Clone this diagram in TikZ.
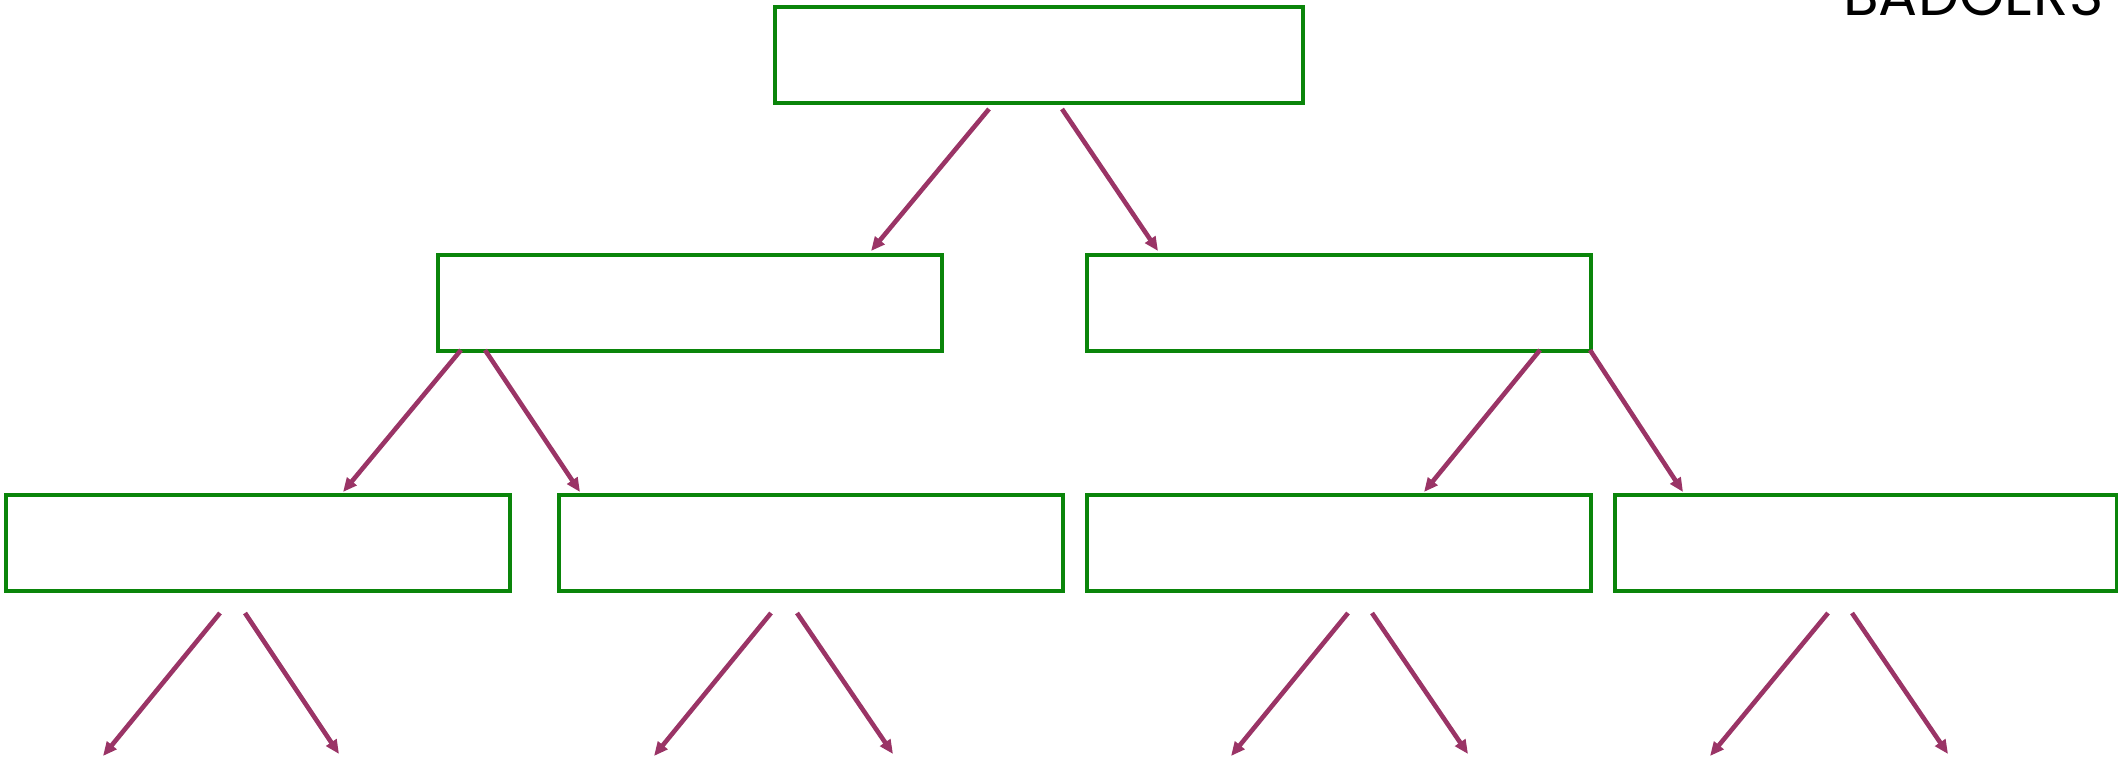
\documentclass[tikz,border=0pt]{standalone}
\usepackage{fontspec}
\newfontfamily\badgerfont{Poppins}
\usetikzlibrary{arrows.meta}
\definecolor{boxgreen}{HTML}{0A850A}
\definecolor{arrowplum}{HTML}{9A3466}
\tikzset{
  box/.style={draw=boxgreen, line width=1.8pt, fill=white, inner sep=0pt},
  link/.style={draw=arrowplum, line width=2.3pt, -{Triangle[length=7pt,width=6pt]}},
}
\begin{document}
\begin{tikzpicture}[x=0.5pt,y=-0.5pt]
\useasboundingbox (0,0) rectangle (2118,760);
% boxes
\node[box, minimum width=264pt, minimum height=48pt, anchor=north west] (top) at (773,5) {};
\node[box, minimum width=252pt, minimum height=48pt, anchor=north west] (ml) at (436,253) {};
\node[box, minimum width=252pt, minimum height=48pt, anchor=north west] (mr) at (1085,253) {};
\node[box, minimum width=252pt, minimum height=48pt, anchor=north west] (b1) at (4,493) {};
\node[box, minimum width=252pt, minimum height=48pt, anchor=north west] (b2) at (557,493) {};
\node[box, minimum width=252pt, minimum height=48pt, anchor=north west] (b3) at (1085,493) {};
\node[box, minimum width=251pt, minimum height=48pt, anchor=north west] (b4) at (1613,493) {};
% title
\node[anchor=base west, inner sep=0pt, font=\badgerfont\fontsize{29pt}{29pt}\selectfont] (title) at (1843,15) {BADGERS};
% connector start/end points
\coordinate (t1) at (989,109);  \coordinate (t1e) at (871,251);
\coordinate (t2) at (1062,109); \coordinate (t2e) at (1158,251);
\coordinate (l1) at (461,350);  \coordinate (l1e) at (343,492);
\coordinate (l2) at (485,350);  \coordinate (l2e) at (580,492);
\coordinate (r1) at (1540,350); \coordinate (r1e) at (1424,492);
\coordinate (r2) at (1590,350); \coordinate (r2e) at (1683,492);
\coordinate (p1) at (220,613);  \coordinate (p1e) at (103,756);
\coordinate (p2) at (245,613);  \coordinate (p2e) at (339,754);
\coordinate (q1) at (771,613);  \coordinate (q1e) at (654,756);
\coordinate (q2) at (797,613);  \coordinate (q2e) at (893,754);
\coordinate (s1) at (1348,613); \coordinate (s1e) at (1231,756);
\coordinate (s2) at (1372,613); \coordinate (s2e) at (1468,754);
\coordinate (u1) at (1828,613); \coordinate (u1e) at (1710,756);
\coordinate (u2) at (1852,613); \coordinate (u2e) at (1948,754);
% connectors
\foreach \a in {t1,t2,l1,l2,r1,r2,p1,p2,q1,q2,s1,s2,u1,u2}
  \draw[link] (\a) -- (\a e);
\end{tikzpicture}
\end{document}
